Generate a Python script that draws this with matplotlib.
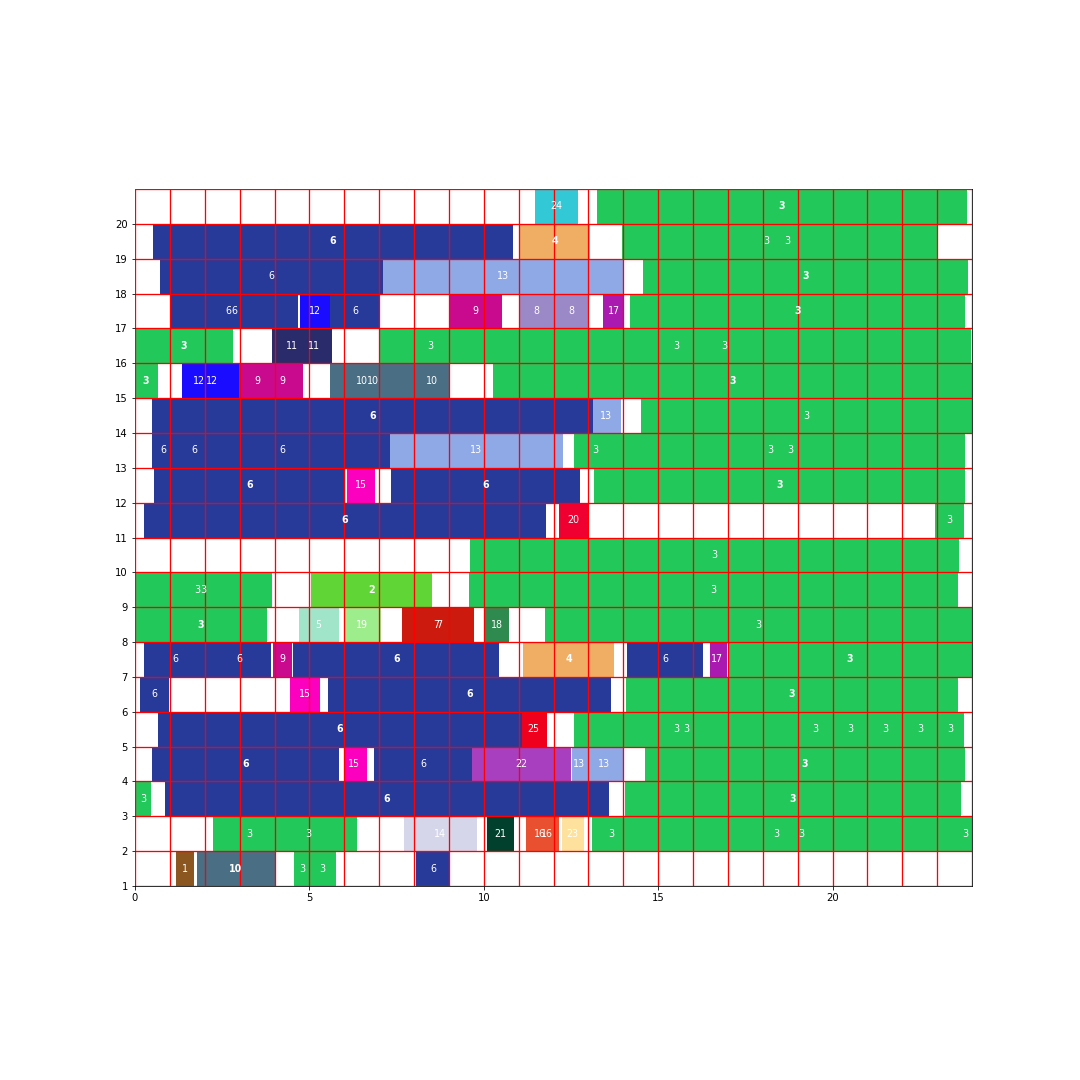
import matplotlib
matplotlib.use("Agg")
import matplotlib.pyplot as plt
import numpy as np

# ---- category colours ----
cat_colors = {
    1: "#8b561f", 2: "#5fd635", 3: "#22c85a", 4: "#f0ad64", 5: "#a0e5ca",
    6: "#283a99", 7: "#cc1a0f", 8: "#9b88c6", 9: "#c90a8f", 10: "#4a6e83",
    11: "#292b6b", 12: "#1a0dff", 13: "#8fa8e6", 14: "#d6d6ea", 15: "#fc00c0",
    16: "#e8502f", 17: "#aa1ab0", 18: "#2e8a4e", 19: "#9ded8d", 20: "#f00030",
    21: "#00402c", 22: "#a83fbe", 23: "#fde19c", 24: "#32c8d6", 25: "#ef001c",
}

# ---- bars: row (bottom y), start, end, category ----
bar_rows = [20, 20,
            19, 19, 19,
            18, 18, 18,
            17, 17, 17, 17, 17, 17, 17,
            16, 16, 16,
            15, 15, 15, 15, 15,
            14, 14, 14,
            13, 13, 13,
            12, 12, 12, 12,
            11, 11, 11,
            10,
            9, 9, 9,
            8, 8, 8, 8, 8, 8,
            7, 7, 7, 7, 7, 7, 7,
            6, 6, 6, 6,
            5, 5, 5,
            4, 4, 4, 4, 4, 4,
            3, 3, 3,
            2, 2, 2, 2, 2, 2,
            1, 1, 1, 1]
bar_starts = [11.47, 13.24,
              0.507, 11.02, 13.97,
              0.717, 7.10, 14.56,
              1.0, 4.73, 5.59, 9.01, 11.02, 13.43, 14.19,
              0.0, 3.94, 7.01,
              0.0, 1.35, 2.99, 5.59, 10.26,
              0.49, 13.14, 14.5,
              0.49, 7.31, 12.59,
              0.545, 6.09, 7.33, 13.16,
              0.26, 12.16, 22.94,
              9.61,
              0.0, 5.04, 9.58,
              0.0, 4.70, 6.0, 7.66, 10.02, 11.76,
              0.26, 3.95, 4.54, 11.13, 14.11, 16.49, 17.01,
              0.14, 4.44, 5.53, 14.07,
              0.66, 11.09, 12.59,
              0.49, 6.0, 6.85, 9.66, 12.53, 14.62,
              0.0, 0.86, 14.05,
              2.25, 7.71, 10.08, 11.21, 12.23, 13.11,
              1.18, 1.77, 4.56, 8.06]
bar_ends = [12.70, 23.86,
            10.83, 13.05, 23.0,
            7.10, 14.0, 23.88,
            4.68, 5.59, 7.03, 10.52, 13.02, 14.02, 23.8,
            2.80, 5.64, 23.96,
            0.66, 2.99, 4.81, 9.01, 24.0,
            13.14, 13.94, 24.0,
            7.31, 12.26, 23.8,
            6.02, 6.88, 12.76, 23.8,
            11.78, 13.02, 23.77,
            23.63,
            3.93, 8.52, 23.6,
            3.78, 5.85, 7.04, 9.72, 10.72, 24.0,
            3.9, 4.51, 10.44, 13.73, 16.28, 16.97, 24.0,
            0.975, 5.3, 13.65, 23.6,
            11.09, 11.82, 23.77,
            5.85, 6.65, 9.66, 12.5, 14.0, 23.8,
            0.46, 13.59, 23.68,
            6.36, 9.8, 10.87, 12.16, 12.87, 24.0,
            1.69, 4.03, 5.76, 9.03]
bar_cats = [24, 3,
            6, 4, 3,
            6, 13, 3,
            6, 12, 6, 9, 8, 17, 3,
            3, 11, 3,
            3, 12, 9, 10, 3,
            6, 13, 3,
            6, 13, 3,
            6, 15, 6, 3,
            6, 20, 3,
            3,
            3, 2, 3,
            3, 5, 19, 7, 18, 3,
            6, 9, 6, 4, 6, 17, 3,
            6, 15, 6, 3,
            6, 25, 3,
            6, 15, 6, 22, 13, 3,
            3, 6, 3,
            3, 14, 21, 16, 23, 3,
            1, 10, 3, 6]

# ---- labels: row, x, text, heavy (overprinted) ----
label_rows = []
label_x = []
label_text = []
label_bold = []

def add(row, items):
    for it in items:
        label_rows.append(row)
        label_x.append(it[0])
        label_text.append(it[1])
        label_bold.append(len(it) > 2)

add(20, [(12.07, "24"), (18.55, "3", 1)])
add(19, [(5.67, "6", 1), (12.04, "4", 1), (18.09, "3"), (18.69, "3")])
add(18, [(3.91, "6"), (10.55, "13"), (19.22, "3", 1)])
add(17, [(2.69, "6"), (2.86, "6"), (5.16, "12"), (6.31, "6"), (9.77, "9"),
         (11.5, "8"), (12.5, "8"), (13.72, "17"), (19.0, "3", 1)])
add(16, [(1.4, "3", 1), (4.49, "11"), (5.14, "11"), (8.46, "3"), (15.51, "3"), (16.89, "3")])
add(15, [(0.31, "3", 1), (1.82, "12"), (2.2, "12"), (3.51, "9"), (4.22, "9"),
         (6.5, "10"), (6.83, "10"), (8.51, "10"), (17.15, "3", 1)])
add(14, [(6.82, "6", 1), (13.5, "13"), (19.25, "3")])
add(13, [(0.81, "6"), (1.70, "6"), (4.22, "6"), (9.77, "13"), (13.19, "3"),
         (18.21, "3"), (18.78, "3")])
add(12, [(3.3, "6", 1), (6.47, "15"), (10.06, "6", 1), (18.48, "3", 1)])
add(11, [(6.0, "6", 1), (12.57, "20"), (23.35, "3")])
add(10, [(16.6, "3")])
add(9, [(1.79, "3"), (1.96, "3"), (6.78, "2", 1), (16.58, "3")])
add(8, [(1.89, "3", 1), (5.27, "5"), (6.52, "19"), (8.645, "7"), (8.735, "7"),
        (10.37, "18"), (17.88, "3")])
add(7, [(1.17, "6"), (2.99, "6"), (4.22, "9"), (7.49, "6", 1), (12.43, "4", 1),
        (15.2, "6"), (16.7, "17"), (20.5, "3", 1)])
add(6, [(0.55, "6"), (4.87, "15"), (9.59, "6", 1), (18.83, "3", 1)])
add(5, [(5.86, "6", 1), (11.42, "25"), (15.51, "3"), (15.82, "3"), (19.5, "3"),
        (20.5, "3"), (21.5, "3"), (22.51, "3"), (23.37, "3")])
add(4, [(3.17, "6", 1), (6.29, "15"), (8.26, "6"), (11.08, "22"), (12.74, "13"),
        (13.46, "13"), (19.2, "3", 1)])
add(3, [(0.23, "3"), (7.22, "6", 1), (18.86, "3", 1)])
add(2, [(3.28, "3"), (4.97, "3"), (8.75, "14"), (10.48, "21"), (11.6, "16"),
        (11.82, "16"), (12.54, "23"), (13.65, "3"), (18.38, "3"), (19.1, "3"), (23.8, "3")])
add(1, [(1.42, "1"), (2.87, "10", 1), (4.79, "3"), (5.36, "3"), (8.55, "6")])

# ---- figure ----
fig = plt.figure(figsize=(15, 15), dpi=72)
ax = fig.add_axes([135 / 1080, (1080 - 886) / 1080, 837 / 1080, 697 / 1080])

for r, s, e, c in zip(bar_rows, bar_starts, bar_ends, bar_cats):
    ax.barh(r + 0.5, e - s, left=s, height=1.0, color=cat_colors[c], linewidth=0)

for r, x, t, b in zip(label_rows, label_x, label_text, label_bold):
    ax.text(x, r + 0.5, t, color="white", fontsize=9.5,
            fontweight="bold" if b else "normal",
            ha="center", va="center", zorder=4)

ax.set_xlim(0, 24)
ax.set_ylim(1, 21)
ax.set_xticks([0, 5, 10, 15, 20])
ax.set_yticks(np.arange(1, 21))
ax.set_xticks(np.arange(0, 25), minor=True)
ax.set_yticks(np.arange(1, 22), minor=True)
ax.tick_params(which="minor", length=0)
ax.tick_params(which="major", labelsize=10, length=3.5)
ax.grid(True, which="both", color="red", linewidth=1.3)
ax.set_axisbelow(False)

fig.savefig("out.png", dpi=72)
